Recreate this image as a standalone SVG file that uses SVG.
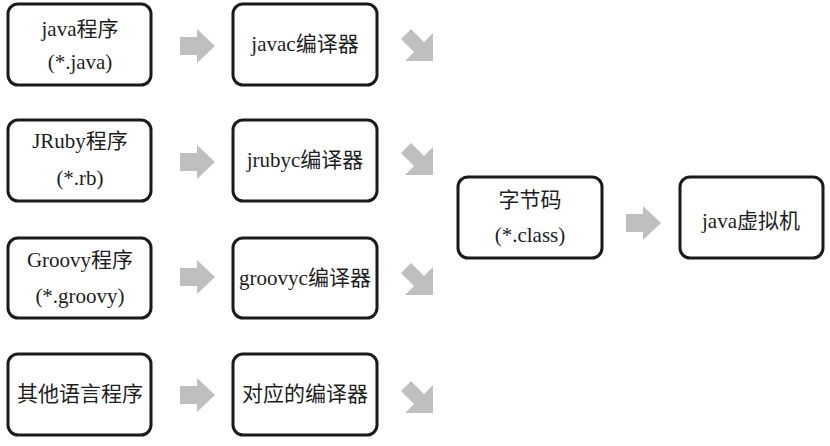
<svg xmlns="http://www.w3.org/2000/svg" width="830" height="446" viewBox="0 0 830 446">
<defs>
<style>
.box{fill:#fff;stroke:#1a1a1a;stroke-width:3}
.t{font-size:21px;fill:#1e1e1e;text-anchor:middle}
.arr{fill:#bfbfbf}
</style>
<polygon id="harr" points="0,-9 17,-9 17,-17 35,0 17,17 17,9 0,9"/>
<polygon id="darr" points="-7,-16 6,-3 15,-12 15,16 -13,16 -4,7 -17,-6"/>
</defs>
<rect width="830" height="446" fill="#fff"/>
<g font-family="Liberation Serif, DejaVu Serif, Noto Sans CJK SC, serif">
<g id="java-src"><rect class="box" x="8" y="4" width="143" height="81" rx="10"/><text class="t" x="80" y="36">java程序</text><text class="t" x="80" y="69">(*.java)</text></g>
<g id="javac"><rect class="box" x="233" y="4" width="144" height="81" rx="10"/><text class="t" x="305" y="51">javac编译器</text></g>
<g id="jruby-src"><rect class="box" x="8" y="120" width="143" height="81" rx="10"/><text class="t" x="80" y="148">JRuby程序</text><text class="t" x="80" y="185">(*.rb)</text></g>
<g id="jrubyc"><rect class="box" x="233" y="120" width="144" height="81" rx="10"/><text class="t" x="305" y="167">jrubyc编译器</text></g>
<g id="groovy-src"><rect class="box" x="8" y="238" width="143" height="80" rx="10"/><text class="t" x="80" y="267">Groovy程序</text><text class="t" x="80" y="303">(*.groovy)</text></g>
<g id="groovyc"><rect class="box" x="233" y="238" width="144" height="80" rx="10"/><text class="t" x="305" y="285">groovyc编译器</text></g>
<g id="other-src"><rect class="box" x="8" y="354" width="143" height="81" rx="10"/><text class="t" x="80" y="401">其他语言程序</text></g>
<g id="other-c"><rect class="box" x="233" y="354" width="144" height="81" rx="10"/><text class="t" x="305" y="401">对应的编译器</text></g>
<g id="bytecode"><rect class="box" x="458" y="177" width="144" height="81" rx="10"/><text class="t" x="530" y="207">字节码</text><text class="t" x="530" y="242">(*.class)</text></g>
<g id="jvm"><rect class="box" x="680" y="177" width="143" height="81" rx="10"/><text class="t" x="751" y="228">java虚拟机</text></g>
</g>
<g id="connectors" class="arr">
<use href="#harr" x="180" y="46"/>
<use href="#harr" x="180" y="162"/>
<use href="#harr" x="180" y="277"/>
<use href="#harr" x="180" y="395"/>
<use href="#harr" x="626" y="223"/>
<use href="#darr" x="418" y="45"/>
<use href="#darr" x="418" y="159"/>
<use href="#darr" x="418" y="279"/>
<use href="#darr" x="418" y="397"/>
</g>
</svg>
